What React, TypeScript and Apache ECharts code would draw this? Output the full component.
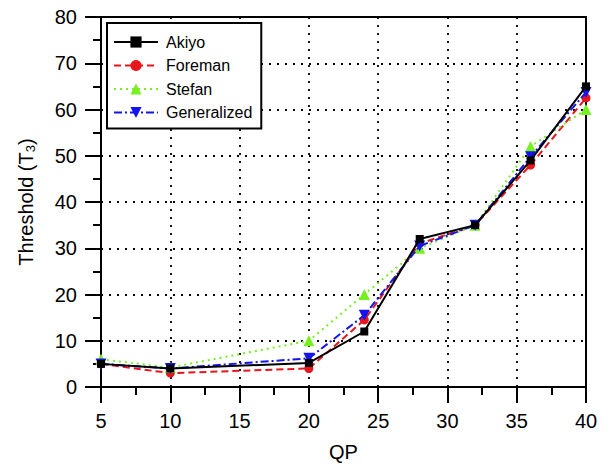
import React, { useEffect, useRef } from "react";
import * as echarts from "echarts";

const qp = [5, 10, 20, 24, 28, 32, 36, 40];
const akiyo = [5, 4, 5.2, 12, 32, 35, 49, 65];
const foreman = [5, 3, 4, 14.5, 31, 35, 48, 62.5];
const stefan = [6, 4.2, 10, 20, 30, 35, 52, 60];
const generalized = [5, 4, 6.2, 15.5, 30.5, 35, 49.8, 63.7];
const seriesNames = ["Akiyo", "Foreman", "Stefan", "Generalized"];

const FONT = "Liberation Sans, Arial, sans-serif";

function pairs(vals: number[]) {
  return qp.map((x, i) => [x, vals[i]]);
}

export default function App() {
  const ref = useRef<HTMLDivElement>(null);
  useEffect(() => {
    if (!ref.current) return;
    const chart = echarts.init(ref.current, null, { renderer: "svg" });
    const gridLine = { show: true, lineStyle: { color: "#000", width: 1.8, type: [2, 6] as any } };
    chart.setOption({
      animation: false,
      backgroundColor: "#fff",
      textStyle: { fontFamily: FONT },
      grid: {
        left: 101,
        right: 28,
        top: 17,
        bottom: 77,
        show: true,
        borderColor: "#000",
        borderWidth: 2,
        backgroundColor: "transparent",
      },
      legend: {
        data: seriesNames,
        orient: "vertical",
        left: 107,
        top: 23,
        padding: [11, 9, 8, 6],
        itemWidth: 44,
        itemHeight: 14,
        itemGap: 7.5,
        backgroundColor: "#fff",
        borderColor: "#000",
        borderWidth: 2,
        textStyle: { fontFamily: FONT, fontSize: 16, color: "#000", padding: [0, 0, 0, 3] },
      },
      xAxis: {
        type: "value",
        min: 5,
        max: 40,
        interval: 5,
        name: "QP",
        nameLocation: "middle",
        nameGap: 55,
        nameTextStyle: { fontFamily: FONT, fontSize: 20, color: "#000" },
        axisLine: { show: true, lineStyle: { color: "#000", width: 2 } },
        axisTick: { show: true, length: 16, lineStyle: { color: "#000", width: 2 } },
        minorTick: { show: true, splitNumber: 2, length: 8, lineStyle: { color: "#000", width: 2 } },
        axisLabel: { fontFamily: FONT, fontSize: 20, color: "#000", margin: 24 },
        splitLine: gridLine,
      },
      yAxis: {
        type: "value",
        min: 0,
        max: 80,
        interval: 10,
        name: "Threshold (T{s|3})",
        nameLocation: "middle",
        nameGap: 64,
        nameRotate: 90,
        nameTextStyle: {
          fontFamily: FONT,
          fontSize: 20,
          color: "#000",
          rich: {
            s: { fontFamily: FONT, fontSize: 13, color: "#000", verticalAlign: "bottom", padding: [10, 0, 0, 0] },
          },
        },
        axisLine: { show: true, lineStyle: { color: "#000", width: 2 } },
        axisTick: { show: true, length: 16, lineStyle: { color: "#000", width: 2 } },
        minorTick: { show: true, splitNumber: 2, length: 8, lineStyle: { color: "#000", width: 2 } },
        axisLabel: { fontFamily: FONT, fontSize: 20, color: "#000", margin: 24 },
        splitLine: gridLine,
      },
      series: [
        {
          name: "Foreman",
          type: "line",
          data: pairs(foreman),
          symbol: "circle",
          symbolSize: 9,
          color: "#e8161c",
          lineStyle: { color: "#e8161c", width: 2, type: [7, 4] },
          itemStyle: { color: "#e8161c" },
          z: 2,
        },
        {
          name: "Stefan",
          type: "line",
          data: pairs(stefan),
          symbol: "triangle",
          symbolSize: 11,
          color: "#77f020",
          lineStyle: { color: "#77f020", width: 2, type: [2, 4] },
          itemStyle: { color: "#77f020" },
          z: 2,
        },
        {
          name: "Generalized",
          type: "line",
          data: pairs(generalized),
          symbol: "triangle",
          symbolRotate: 180,
          symbolSize: 11,
          color: "#1414f0",
          lineStyle: { color: "#1414f0", width: 2, type: [8, 3, 2, 3] },
          itemStyle: { color: "#1414f0" },
          z: 3,
        },
        {
          name: "Akiyo",
          type: "line",
          data: pairs(akiyo),
          symbol: "rect",
          symbolSize: 8,
          color: "#000",
          lineStyle: { color: "#000", width: 2 },
          itemStyle: { color: "#000" },
          z: 4,
        },
      ],
    });
    return () => chart.dispose();
  }, []);
  return <div ref={ref} style={{ width: 614, height: 467, position: "absolute", left: 0, top: 0 }} />;
}
